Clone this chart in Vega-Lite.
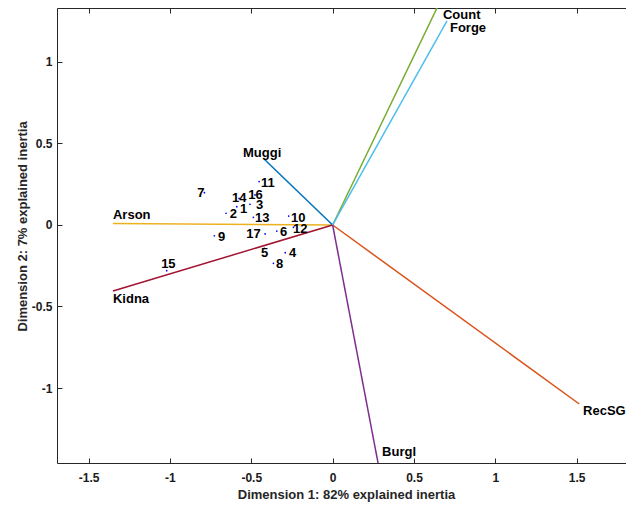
{
  "$schema": "https://vega.github.io/schema/vega-lite/v6.json",
  "width": 569,
  "height": 455,
  "autosize": "none",
  "padding": {"left": 57, "top": 8, "right": 0, "bottom": 43},
  "background": "white",
  "config": {
    "view": {"stroke": null},
    "font": "Liberation Sans",
    "axis": {
      "grid": false,
      "domainColor": "#262626",
      "domainWidth": 1,
      "tickColor": "#262626",
      "tickSize": -5,
      "labelColor": "#1a1a1a",
      "labelFont": "Liberation Sans",
      "labelFontWeight": "bold",
      "labelFontSize": 12,
      "labelExpr": "replace(format(datum.value, '~g'), '\u2212', '-')",
      "titleColor": "#262626",
      "titleFont": "Liberation Sans",
      "titleFontWeight": "bold",
      "titleFontSize": 13
    }
  },
  "datasets": {
    "vars": [
      {"name": "Arson", "ex": -1.35, "ey": 0.009, "lx": -1.35, "ly": 0.061},
      {"name": "Kidna", "ex": -1.35, "ey": -0.405, "lx": -1.35, "ly": -0.454},
      {"name": "Muggi", "ex": -0.42, "ey": 0.403, "lx": -0.551, "ly": 0.442},
      {"name": "Count", "ex": 0.648, "ey": 1.345, "lx": 0.678, "ly": 1.288},
      {"name": "Forge", "ex": 0.703, "ey": 1.252, "lx": 0.721, "ly": 1.209},
      {"name": "RecSG", "ex": 1.516, "ey": -1.098, "lx": 1.539, "ly": -1.141},
      {"name": "Burgl", "ex": 0.285, "ey": -1.49, "lx": 0.304, "ly": -1.393}
    ],
    "obs": [
      {"id": "1", "x": -0.589, "y": 0.112, "lx": -0.569, "ly": 0.096},
      {"id": "2", "x": -0.655, "y": 0.072, "lx": -0.633, "ly": 0.066},
      {"id": "3", "x": -0.508, "y": 0.127, "lx": -0.471, "ly": 0.123},
      {"id": "4", "x": -0.291, "y": -0.17, "lx": -0.268, "ly": -0.174},
      {"id": "5", "x": -0.42, "y": -0.143, "lx": -0.44, "ly": -0.174},
      {"id": "6", "x": -0.343, "y": -0.037, "lx": -0.323, "ly": -0.041},
      {"id": "7", "x": -0.788, "y": 0.198, "lx": -0.832, "ly": 0.199},
      {"id": "8", "x": -0.364, "y": -0.235, "lx": -0.348, "ly": -0.239},
      {"id": "9", "x": -0.727, "y": -0.066, "lx": -0.704, "ly": -0.072},
      {"id": "10", "x": -0.27, "y": 0.055, "lx": -0.256, "ly": 0.044},
      {"id": "11", "x": -0.452, "y": 0.266, "lx": -0.44, "ly": 0.258},
      {"id": "12", "x": -0.241, "y": -0.014, "lx": -0.243, "ly": -0.026},
      {"id": "13", "x": -0.487, "y": 0.047, "lx": -0.477, "ly": 0.041},
      {"id": "14", "x": -0.575, "y": 0.163, "lx": -0.618, "ly": 0.163},
      {"id": "15", "x": -1.02, "y": -0.28, "lx": -1.054, "ly": -0.239},
      {"id": "16", "x": -0.477, "y": 0.184, "lx": -0.519, "ly": 0.184},
      {"id": "17", "x": -0.415, "y": -0.055, "lx": -0.531, "ly": -0.055}
    ]
  },
  "layer": [
    {
      "data": {"name": "vars"},
      "mark": {"type": "rule", "strokeWidth": 1.5, "clip": true},
      "encoding": {
        "x": {"field": "ex", "type": "quantitative", "scale": {"domain": [-1.694, 1.803], "nice": false, "zero": false},
              "axis": {"orient": "bottom", "values": [-1.5, -1, -0.5, 0, 0.5, 1, 1.5], "labelPadding": 14, "title": "Dimension 1: 82% explained inertia", "titleBaseline": "middle", "titleY": 31, "titleX": 289}},
        "y": {"field": "ey", "type": "quantitative", "scale": {"domain": [-1.46, 1.331], "nice": false, "zero": false},
              "axis": {"orient": "left", "values": [-1, -0.5, 0, 0.5, 1], "labelPadding": 10, "title": "Dimension 2: 7% explained inertia", "titleBaseline": "middle", "titleX": -35, "titleY": 218}},
        "x2": {"datum": 0},
        "y2": {"datum": 0},
        "color": {"field": "name", "type": "nominal", "legend": null,
                  "scale": {"domain": ["Arson", "Kidna", "Muggi", "Count", "Forge", "RecSG", "Burgl"],
                            "range": ["#EDB120", "#A2142F", "#0072BD", "#77AC30", "#4DBEEE", "#D95319", "#7E2F8E"]}}
      }
    },
    {
      "data": {"name": "vars"},
      "mark": {"type": "text", "align": "left", "baseline": "middle", "fontSize": 13, "fontWeight": "bold", "font": "Liberation Sans", "color": "#000000"},
      "encoding": {
        "x": {"field": "lx", "type": "quantitative", "axis": {"orient": "top", "values": [-1.5, -1, -0.5, 0, 0.5, 1, 1.5], "labels": false, "title": null}},
        "y": {"field": "ly", "type": "quantitative"},
        "text": {"field": "name"}
      }
    },
    {
      "data": {"name": "obs"},
      "mark": {"type": "circle", "size": 3, "color": "#0000ff", "opacity": 1},
      "encoding": {
        "x": {"field": "x", "type": "quantitative", "axis": null},
        "y": {"field": "y", "type": "quantitative"}
      }
    },
    {
      "data": {"name": "obs"},
      "mark": {"type": "text", "align": "left", "baseline": "middle", "fontSize": 13, "fontWeight": "bold", "font": "Liberation Sans", "color": "#000000"},
      "encoding": {
        "x": {"field": "lx", "type": "quantitative", "axis": null},
        "y": {"field": "ly", "type": "quantitative"},
        "text": {"field": "id"}
      }
    }
  ],
  "resolve": {"axis": {"x": "independent"}}
}
